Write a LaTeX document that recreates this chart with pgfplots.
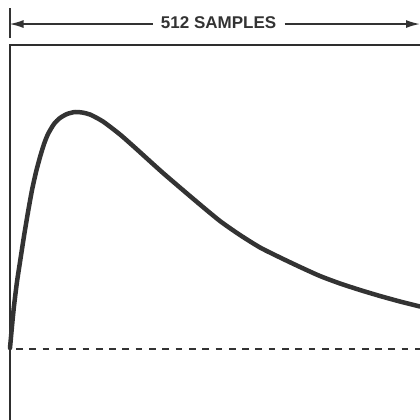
\documentclass[border=0pt]{standalone}
\usepackage{pgfplots}
\pgfplotsset{compat=1.18}
\usepackage{fontspec}
\setmainfont{Liberation Sans}
\usetikzlibrary{arrows.meta}
\definecolor{ink}{HTML}{333333}
\begin{document}
\begin{tikzpicture}
\begin{axis}[
  width=420pt, height=420pt, scale only axis,
  xmin=-12.49, xmax=512, ymin=-0.3038, ymax=1.4684,
  hide axis, clip=false,
]
\path[use as bounding box] (rel axis cs:0,0) rectangle (rel axis cs:1,1);
% frame
\draw[line width=2pt, color=ink!90!black] (axis cs:-0.6,-0.3038) -- (axis cs:-0.6,1.2785) -- (axis cs:512,1.2785);
% baseline
\draw[line width=2.8pt, color=ink, dash pattern=on 6.7pt off 6.6pt] (axis cs:7.5,-0.004) -- (axis cs:512,-0.004);
% annotation
\draw[line width=2pt, color=ink] (axis cs:-0.6,1.308) -- (axis cs:-0.6,1.4346);
\draw[line width=1.6pt, color=ink, -{Latex[length=14pt,width=8pt]}] (axis cs:178,1.367) -- (axis cs:-0.6,1.367);
\draw[line width=1.6pt, color=ink, -{Latex[length=14pt,width=8pt]}] (axis cs:343,1.367) -- (axis cs:512,1.367);
\node[font=\fontsize{17}{20}\selectfont\bfseries, text=ink, inner sep=0pt] at (axis cs:260.5,1.371) {512 SAMPLES};
% curve
\addplot[line width=4.5pt, color=ink, smooth, tension=0.4, line cap=round, line join=round] coordinates {
(0,0) (2.5,0.0928) (5.0,0.1772) (8.7,0.2785) (12.5,0.3629) (17.5,0.4726)
(22.5,0.5738) (27.5,0.6667) (32.5,0.7426) (37.5,0.8059) (42.5,0.8608) (47.5,0.9030)
(54.9,0.9451) (62.4,0.9705) (71.2,0.9873) (81.2,0.9958) (89.9,0.9937) (99.9,0.9852)
(116.1,0.9557) (137.4,0.9008) (158.6,0.8376) (191.1,0.7384) (233.5,0.6160)
(262.2,0.5359) (287.2,0.4768) (312.2,0.4241) (337.2,0.3819) (362.2,0.3418)
(387.1,0.3038) (412.1,0.2722) (437.1,0.2447) (462.1,0.2194) (487.0,0.1962) (512,0.1751)
};
\end{axis}
\end{tikzpicture}
\end{document}
